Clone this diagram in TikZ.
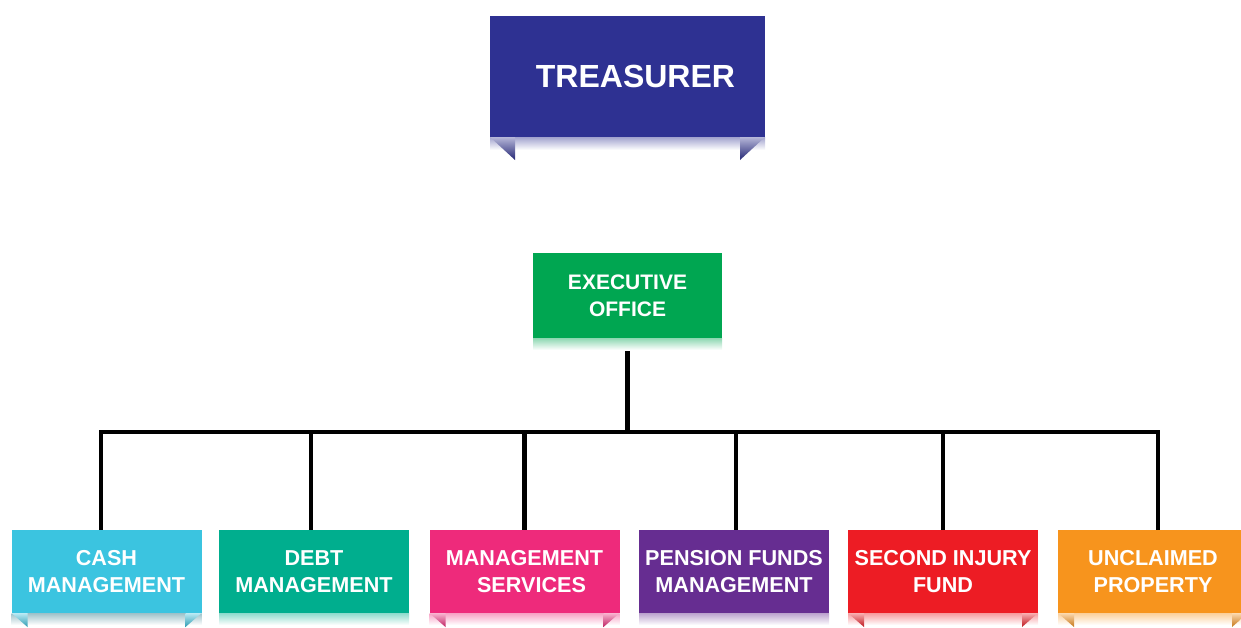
\documentclass[tikz,border=0pt]{standalone}
\usepackage{fontspec}
\setmainfont{Liberation Sans}

\definecolor{treasurerblue}{HTML}{2E3192}
\definecolor{officegreen}{HTML}{00A651}
\definecolor{cashcyan}{HTML}{3BC4E0}
\definecolor{debtteal}{HTML}{00AE8E}
\definecolor{servicepink}{HTML}{EE2A7B}
\definecolor{pensionpurple}{HTML}{662D91}
\definecolor{injuryred}{HTML}{ED1C24}
\definecolor{propertyorange}{HTML}{F7941D}

% shaded strip under a box
\newcommand{\ribbonstrip}[3]{%
  \shade[top color=#2!45, bottom color=white]
    (#1.south west) rectangle ([yshift=-#3]#1.south east);}
% folded corners under a box
\newcommand{\ribbontabs}[4]{%
  \shade[top color=#2!35, bottom color=#2!80!black]
    (#1.south west) -- ++(#3,0) -- ++(0,#4) -- cycle;
  \shade[top color=#2!35, bottom color=#2!80!black]
    (#1.south east) -- ++(-#3,0) -- ++(0,#4) -- cycle;}

\begin{document}
\begin{tikzpicture}[
                  x = 0.5pt,
                  y = -0.5pt,
           box/.style = {rectangle,
                         inner sep=0pt,
                         outer sep=0pt,
                         text=white,
                         align=center},
          head/.style = {box, minimum width=137.5pt, minimum height=60.5pt,
                         font=\bfseries\fontsize{16}{19}\selectfont},
        office/.style = {box, minimum width=94.5pt, minimum height=42.5pt,
                         font=\bfseries\fontsize{10.5}{13.5}\selectfont},
          unit/.style = {box, minimum width=95pt, minimum height=41.5pt,
                         font=\bfseries\fontsize{10.8}{13.5}\selectfont},
          link/.style = {draw=black, line width=2.2pt},
            ]

    \useasboundingbox (0,0) rectangle (1241,627);

    \node[head, fill=treasurerblue] (treasurer) at (627.5,76.5) {\hspace*{8pt}TREASURER};
    \node[office, fill=officegreen] (exec) at (627.5,295.5) {EXECUTIVE\\OFFICE};

    \foreach \name/\x/\col/\txt in {%
        cash/106.5/cashcyan/{CASH\\MANAGEMENT},
        debt/314/debtteal/{DEBT\\MANAGEMENT},
        mgmt/524.5/servicepink/{MANAGEMENT\\\hspace*{7pt}SERVICES},
        pension/734/pensionpurple/{PENSION FUNDS\\MANAGEMENT},
        second/943/injuryred/{SECOND INJURY\\FUND},
        unclaimed/1153/propertyorange/{UNCLAIMED\\PROPERTY}}{%
        \node[unit, fill=\col] (\name) at (\x,571.5) {\txt};
    }

    % connectors
    \coordinate (hub) at (627.5,432);
    \draw[link] (exec.south) -- (hub);
    \foreach \name/\dx in {cash/-2.75, debt/-1.5, mgmt/0, pension/1,
                           second/0, unclaimed/2.5}{%
        \draw[link] (hub) -| ([xshift=\dx pt]\name.north);
    }

    % ribbons
    \ribbonstrip{treasurer}{treasurerblue}{6.5pt}
    \ribbontabs{treasurer}{treasurerblue}{25}{23}
    \ribbonstrip{exec}{officegreen}{6pt}
    \ribbonstrip{cash}{cashcyan!60!black}{6pt}
    \ribbontabs{cash}{cashcyan}{16}{14}
    \ribbonstrip{debt}{debtteal}{6pt}
    \ribbonstrip{mgmt}{servicepink}{6pt}
    \ribbontabs{mgmt}{servicepink}{16}{14}
    \ribbonstrip{pension}{pensionpurple}{6pt}
    \ribbonstrip{second}{injuryred}{6pt}
    \ribbontabs{second}{injuryred}{16}{14}
    \ribbonstrip{unclaimed}{propertyorange}{6pt}
    \ribbontabs{unclaimed}{propertyorange}{16}{14}
\end{tikzpicture}
\end{document}
